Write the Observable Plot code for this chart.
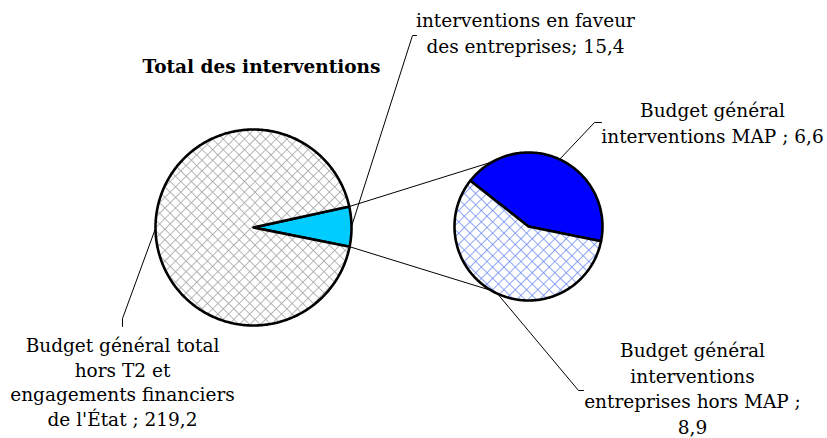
<!DOCTYPE html>
<html><head><meta charset="utf-8">
<script src="https://cdn.jsdelivr.net/npm/d3@7"></script>
<script src="https://cdn.jsdelivr.net/npm/@observablehq/plot@0.6"></script>
<style>body{margin:0;background:#fff}</style>
</head><body><div id="chart"></div>
<script>
// ---- data ----
const title = "Total des interventions";
const mainCategories = ["interventions en faveur des entreprises", "Budget général total hors T2 et engagements financiers de l'État"];
const mainValues = [15.4, 219.2];
const subCategories = ["Budget général interventions MAP", "Budget général interventions entreprises hors MAP"];
const subValues = [6.6, 8.9];
const mainLabelLines = [["interventions en faveur", "des entreprises; "], ["Budget général total", "hors T2 et", "engagements financiers", "de l'État ; "]];
const subLabelLines = [["Budget général", "interventions MAP ; "], ["Budget général", "interventions", "entreprises hors MAP ;", ""]];

// ---- layout ----
const W = 827, H = 438;
const mainPie = {cx: 253, cy: 227, r: 98, start: -11.3};
const subPie = {cx: 528, cy: 226, r: 74, start: -11.5};
const mainFills = ["#00ccff", "url(#hatchGray)"];
const subFills = ["#0000ff", "url(#hatchBlue)"];
const fmt = v => String(v).replace(".", ",");
const FONT = 18.5;

function pt(p, a, r = p.r) {
  const t = a * Math.PI / 180;
  return {x: p.cx + r * Math.cos(t), y: p.cy - r * Math.sin(t)};
}
function slices(p, values) {
  const total = d3.sum(values);
  let a = p.start;
  return values.map((v, i) => {
    const a0 = a, a1 = a + v / total * 360;
    a = a1;
    const pts = [{x: p.cx, y: p.cy}];
    const n = Math.max(2, Math.ceil(a1 - a0));
    for (let k = 0; k <= n; k++) pts.push(pt(p, a0 + (a1 - a0) * k / n));
    return {i, a0, a1, mid: (a0 + a1) / 2, pts};
  });
}
const mainSl = slices(mainPie, mainValues);
const subSl = slices(subPie, subValues);

// connector lines between pies
const connectors = [
  [pt(mainPie, mainSl[0].a1), pt(subPie, 119)],
  [pt(mainPie, mainSl[0].a0), pt(subPie, 240)]
].flatMap((seg, id) => seg.map(q => ({...q, id})));

// label anchors (layout) & leader lines
const labels = [
  {lines: mainLabelLines[0], v: mainValues[0], x: 525, y: 7, lh: 1.45, elbow: [{x: 412, y: 35}, {x: 416, y: 35}], from: pt(mainPie, mainSl[0].mid)},
  {lines: mainLabelLines[1], v: mainValues[1], x: 122, y: 334, lh: 1.33, elbow: [{x: 122, y: 318}, {x: 122, y: 326}], from: pt(mainPie, mainSl[1].mid)},
  {lines: subLabelLines[0], v: subValues[0], x: 712, y: 97, lh: 1.45, elbow: [{x: 594, y: 122}, {x: 601, y: 122}], from: pt(subPie, subSl[0].mid)},
  {lines: subLabelLines[1], v: subValues[1], x: 692, y: 339, lh: 1.37, elbow: [{x: 578, y: 390}, {x: 583, y: 390}], from: pt(subPie, subSl[1].mid)}
];
labels.forEach(l => { const L = l.lines.slice(); L[L.length - 1] += fmt(l.v); l.text = L.join("\n"); });
const leaders = labels.flatMap((l, id) => [l.from, ...l.elbow].map(q => ({...q, id})));

const sliceMarks = [
  ...mainSl.map(s => Plot.line(s.pts, {x: "x", y: "y", curve: "linear-closed", fill: mainFills[s.i], stroke: "black", strokeWidth: 2.6, strokeLinejoin: "round"})),
  ...subSl.map(s => Plot.line(s.pts, {x: "x", y: "y", curve: "linear-closed", fill: subFills[s.i], stroke: "black", strokeWidth: 2.6, strokeLinejoin: "round"}))
];

const plot = Plot.plot({
  width: W, height: H, margin: 0,
  x: {domain: [0, W], range: [0, W], axis: null},
  y: {domain: [0, H], range: [0, H], axis: null},
  style: {fontFamily: "'DejaVu Serif', serif", background: "white", color: "black"},
  marks: [
    ...sliceMarks,
    Plot.line(connectors, {x: "x", y: "y", z: "id", stroke: "black", strokeWidth: 1}),
    Plot.line(leaders, {x: "x", y: "y", z: "id", stroke: "black", strokeWidth: 1}),
    ...labels.map(l => Plot.text([l], {x: "x", y: "y", text: "text", textAnchor: "middle", lineAnchor: "top", fontSize: FONT, lineHeight: l.lh, fill: "black"})),
    Plot.text([title], {x: () => 261, y: () => 59, text: d => d, textAnchor: "middle", lineAnchor: "top", fontSize: FONT, fontWeight: "bold", fill: "black"})
  ]
});

const defs = d3.select(plot).insert("defs", ":first-child");
function hatch(id, color, size) {
  const p = defs.append("pattern").attr("id", id).attr("patternUnits", "userSpaceOnUse")
    .attr("width", size).attr("height", size).attr("patternTransform", "rotate(45)");
  p.append("rect").attr("width", size).attr("height", size).attr("fill", "white");
  p.append("line").attr("x1", 0).attr("y1", 0).attr("x2", size).attr("y2", 0).attr("stroke", color).attr("stroke-width", 1.6);
  p.append("line").attr("x1", 0).attr("y1", 0).attr("x2", 0).attr("y2", size).attr("stroke", color).attr("stroke-width", 1.6);
}
hatch("hatchGray", "#a6a6a6", 7.5);
hatch("hatchBlue", "#7390f2", 8);

document.getElementById("chart").appendChild(plot);
</script>
</body></html>
